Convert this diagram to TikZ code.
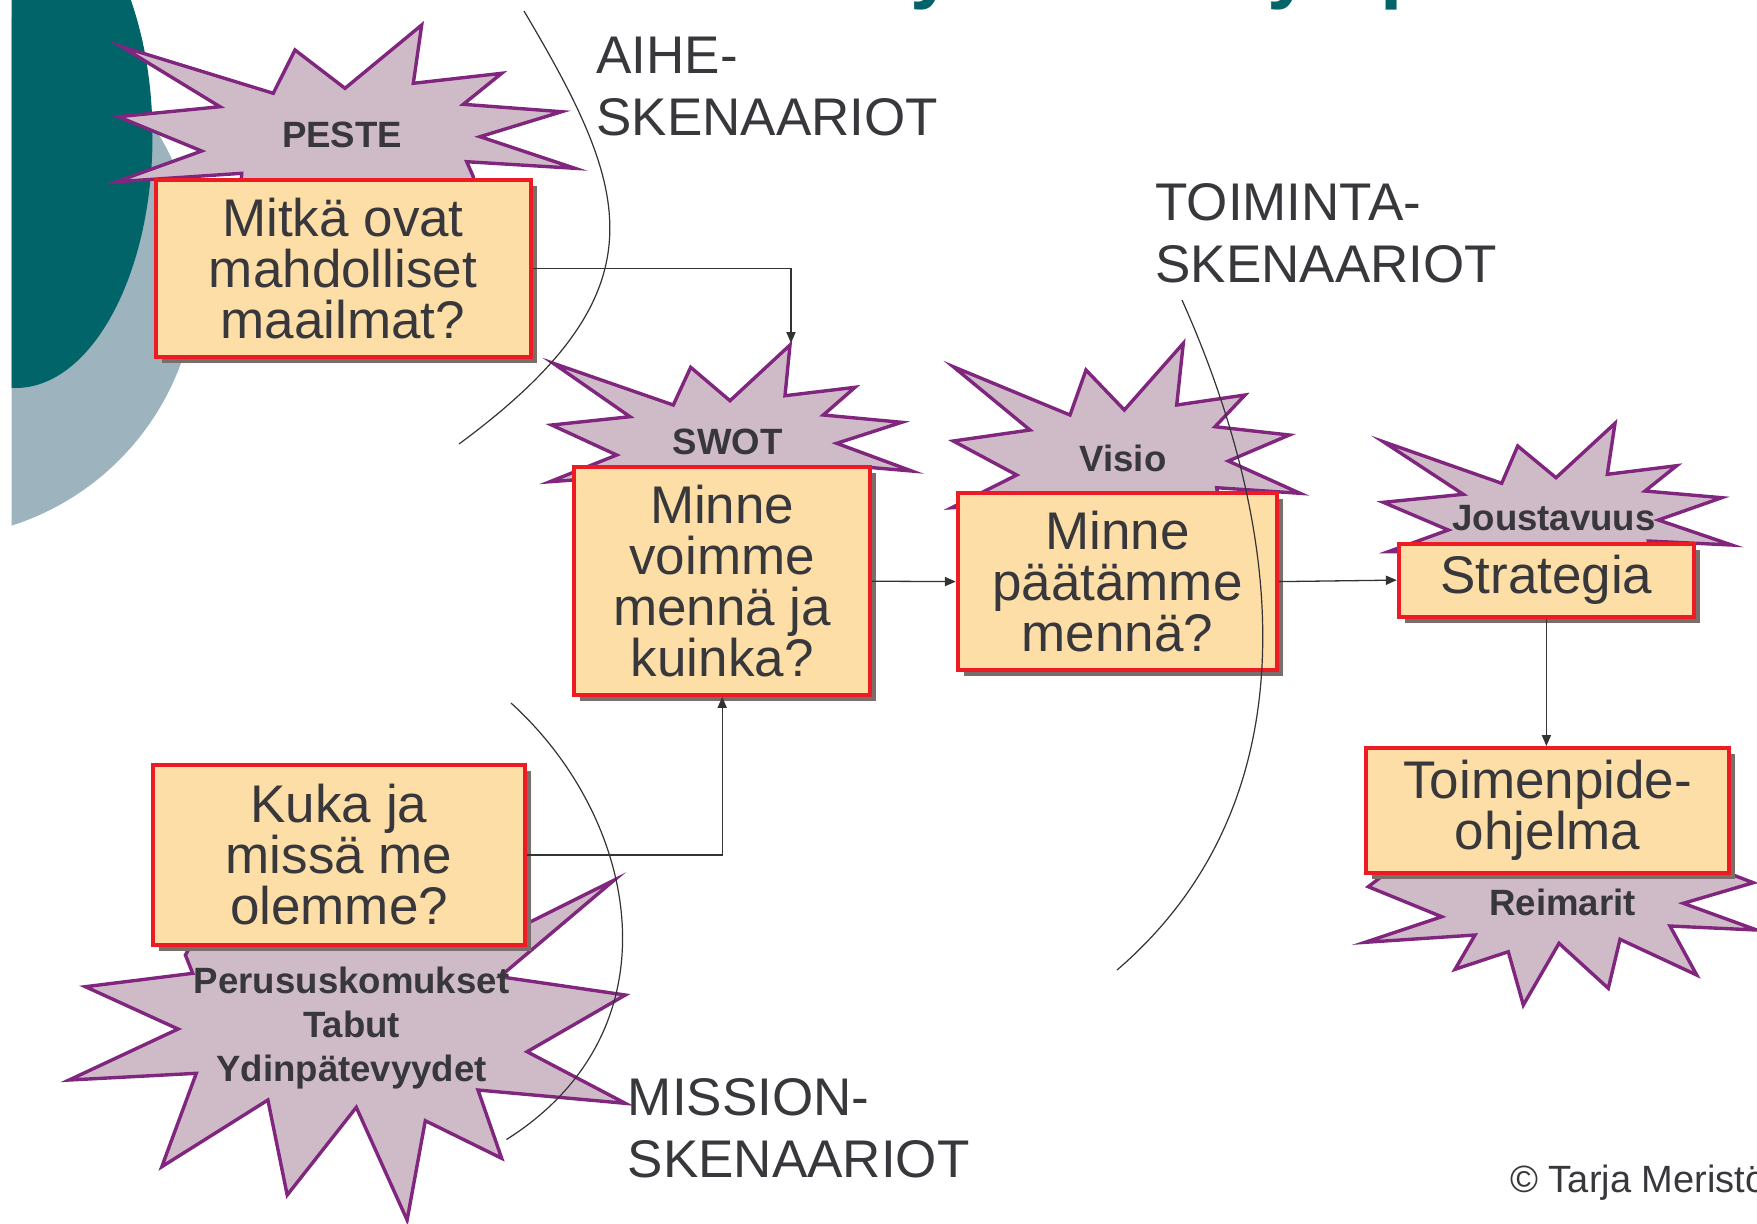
\documentclass[tikz,border=0pt]{standalone}
\usepackage{fontspec}
\setmainfont{Liberation Sans}
\usetikzlibrary{arrows.meta,shadows}
\definecolor{tealc}{HTML}{006469}
\definecolor{greyblue}{HTML}{9DB3BD}
\definecolor{starfill}{HTML}{CFBBC8}
\definecolor{stardraw}{HTML}{80267F}
\definecolor{boxfill}{HTML}{FCDEA6}
\definecolor{boxdraw}{HTML}{ED1C24}
\definecolor{shadowc}{HTML}{7A6E6C}
\definecolor{txt}{HTML}{37373C}
\definecolor{linec}{HTML}{333333}
\begin{document}
\begin{tikzpicture}[x=0.5pt,y=-0.5pt,
  box/.style={draw=boxdraw, line width=2pt, fill=boxfill, inner sep=0pt, align=center,
    text=txt, font=\fontsize{26.5pt}{25.5pt}\selectfont,
    general shadow={fill=shadowc, shadow xshift=3pt, shadow yshift=-3pt}},
  burst/.style={draw=stardraw, line width=1.7pt, fill=starfill},
  burstlbl/.style={inner sep=0pt, text=txt, align=center, font=\bfseries\fontsize{18.3pt}{22pt}\selectfont},
  sidelbl/.style={inner sep=0pt, text=txt, align=left, anchor=north west, font=\fontsize{26.5pt}{31pt}\selectfont},
  conn/.style={draw=linec, line width=0.65pt, -{Triangle[length=5.5pt,width=4.6pt]}},
  sepline/.style={draw=linec, line width=0.6pt},
  titlefrag/.style={inner sep=0pt, anchor=base west, text=tealc, font=\bfseries\fontsize{40pt}{48pt}\selectfont}
]
\useasboundingbox (0,0) rectangle (1757,1223);
\clip (0,0) rectangle (1757,1223);
\fill[white] (0,0) rectangle (1757,1223);

% background circles
\begin{scope}
  \clip (11.7,0) rectangle (500,700);
  \fill[greyblue] (-69,272) circle[radius=266];
  \fill[tealc] (15.5,136) ellipse[x radius=137, y radius=252];
\end{scope}

% title fragments cut off at the top
\node[titlefrag] (tfa) at (910,-7) {y};
\node[titlefrag] (tfb) at (1267,-7) {y};
\node[titlefrag] (tfc) at (1380,-7) {p};

% starbursts
\draw[burst] (116.7,181.7) -- (201.7,151) -- (118.3,116.7) -- (220,106.7) -- (121.7,46.7)
  -- (273.3,93.3) -- (295,50) -- (345,88.3) -- (421.7,25) -- (413.3,83.3) -- (501.7,73.3)
  -- (463.3,104.3) -- (561.7,111.7) -- (480,136.7) -- (575,168.3) -- (466.7,161.7)
  -- (473.3,176.7) -- (475,200) -- (240,200) -- (241.7,173.3) -- cycle;
\draw[burst] (550,481.7) -- (616.7,455) -- (551.7,425) -- (630,416.7) -- (553.3,363.3)
  -- (673.3,405) -- (690.7,367.3) -- (730,400.7) -- (790,345) -- (785,395.7) -- (855,387.3)
  -- (823.3,415) -- (901.7,422.3) -- (836.7,443.3) -- (911.7,471) -- (865,467)
  -- (860,490) -- (600,490) -- (600,478) -- cycle;
\draw[burst] (951.7,507.7) -- (1016.7,475) -- (953.3,441) -- (1030,430) -- (953.3,366.7)
  -- (1070,415) -- (1086,370) -- (1124.3,410) -- (1183.3,343.3) -- (1176.7,405) -- (1245,395)
  -- (1215,426.7) -- (1289.3,435) -- (1228.3,461) -- (1300,493.3) -- (1216.7,487.7)
  -- (1220,510) -- (980,510) -- (980,506) -- cycle;
\draw[burst] (1388.3,551.7) -- (1448.3,530) -- (1383.3,502.3) -- (1463.3,494.3) -- (1383.3,441.7)
  -- (1501.7,483.3) -- (1517.7,446) -- (1556,477.7) -- (1615,423.3) -- (1607.3,474.3)
  -- (1676.7,465.7) -- (1645,491) -- (1721.7,497.7) -- (1658.3,520) -- (1731.7,545)
  -- (1648.3,541) -- (1650,560) -- (1420,560) -- (1420,552) -- cycle;
\draw[burst] (1368.3,886.7) -- (1441.7,916.7) -- (1365,942.3) -- (1475,935) -- (1455,969.3)
  -- (1508.3,951.7) -- (1523.3,1005) -- (1559,943.3) -- (1608.3,988.3) -- (1620,939.3)
  -- (1696.7,975) -- (1670,926) -- (1756.7,930) -- (1683.3,903.3) -- (1753.3,882.7)
  -- (1720,870) -- (1390,870) -- cycle;
\draw[burst] (500,937) -- (614.3,880) -- (499.9,976.7) -- (625.3,995) -- (527.1,1051.7)
  -- (625.3,1103.3) -- (478,1090) -- (501.7,1158.3) -- (425.3,1120.7) -- (407.1,1220)
  -- (356.3,1107.3) -- (287.2,1195) -- (267.9,1100) -- (161.8,1166.7) -- (196.3,1073.3)
  -- (69.1,1080) -- (178.1,1029) -- (85.4,986.7) -- (192.7,973.3) -- (185.4,955)
  -- (200,930) -- cycle;

% starburst labels
\node[burstlbl, anchor=base] (peste) at (342,147.7) {PESTE};
\node[burstlbl, anchor=base] (swot) at (727.5,454.3) {SWOT};
\node[burstlbl, anchor=base] (visio) at (1123,471.7) {Visio};
\node[burstlbl, anchor=base] (joust) at (1554,530) {Joustavuus};
\node[burstlbl, anchor=base] (reim) at (1562.5,915) {Reimarit};
\node[burstlbl, anchor=north] (perus) at (351.6,966.5) {Perususkomukset\\Tabut\\Ydinpätevyydet};

% boxes
\node[box, minimum width=187.5pt, minimum height=88.5pt] (b1) at (343,268.3) {Mitkä ovat\\mahdolliset\\maailmat?};
\node[box, minimum width=147.75pt, minimum height=113.75pt] (b2) at (722.2,581.2) {Minne\\voimme\\mennä ja\\kuinka?};
\node[box, minimum width=159.6pt, minimum height=88.6pt] (b3) at (1117.4,581.6) {Minne\\päätämme\\mennä?};
\node[box, minimum width=147.6pt, minimum height=36.4pt] (b4) at (1546.4,580.1) {Strategia};
\node[box, minimum width=181.25pt, minimum height=62.5pt] (b5) at (1547.7,810.5) {Toimenpide-\\ohjelma};
\node[box, minimum width=185.6pt, minimum height=90pt] (b6) at (339,855) {Kuka ja\\missä me\\olemme?};

% connectors
\coordinate (swottip) at (791,343);
\draw[conn] (b1.east) -| (swottip);
\draw[conn] (b6.east) -| (b2.south);
\draw[conn] (b2.east) -- (b3.west);
\draw[conn] (b3.east) -- (b4.west);
\draw[conn] (b4.south) -- (b4.south |- b5.north);

% separating curves
\draw[sepline] (524,11) .. controls (630,190) and (668,290) .. (459,444);
\draw[sepline] (1182,300) .. controls (1285,530) and (1315,800) .. (1117,970);
\draw[sepline] (511,703) .. controls (640,820) and (680,1030) .. (506.5,1139.5);

% side labels
\node[sidelbl] (aihe) at (596,37) {AIHE-\\SKENAARIOT};
\node[sidelbl] (toim) at (1155,182.7) {TOIMINTA-\\SKENAARIOT};
\node[sidelbl] (miss) at (627.5,1078) {MISSION-\\SKENAARIOT};

% copyright
\node[inner sep=0pt, anchor=base west, text=txt, font=\fontsize{19pt}{23pt}\selectfont] (copy) at (1510,1192) {© Tarja Meristö};
\end{tikzpicture}
\end{document}
